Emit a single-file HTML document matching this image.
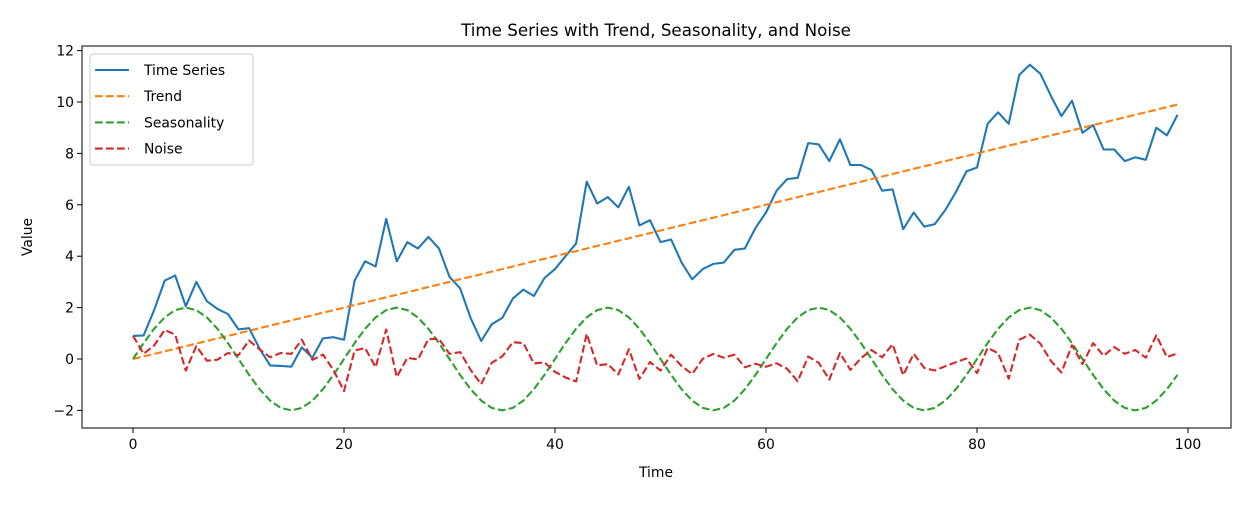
<!DOCTYPE html>
<html><head><meta charset="utf-8"><style>
html,body{margin:0;padding:0;background:#fff;}
svg text{font-family:"DejaVu Sans","Liberation Sans",sans-serif;fill:#000;}
</style></head><body>
<svg id="s" width="1248" height="500" xmlns="http://www.w3.org/2000/svg"></svg>
<script>
var ts=[0.9,0.92,1.9,3.05,3.25,2.05,3.0,2.25,1.95,1.75,1.15,1.2,0.4,-0.25,-0.27,-0.3,0.45,0.05,0.8,0.85,0.75,3.05,3.8,3.6,5.45,3.8,4.55,4.3,4.75,4.3,3.2,2.75,1.6,0.7,1.35,1.6,2.35,2.7,2.45,3.15,3.5,4.0,4.5,6.9,6.05,6.3,5.9,6.7,5.2,5.4,4.55,4.65,3.75,3.1,3.5,3.7,3.75,4.25,4.3,5.1,5.7,6.55,7.0,7.05,8.4,8.35,7.7,8.55,7.55,7.55,7.35,6.55,6.6,5.05,5.7,5.15,5.25,5.8,6.5,7.3,7.45,9.15,9.6,9.15,11.05,11.45,11.1,10.25,9.45,10.05,8.8,9.1,8.15,8.15,7.7,7.85,7.75,9.0,8.7,9.5];
var L=82,R=1231,T=46,B=428;
function X(x){return 133+x*10.55;}
function Y(y){return 359-y*25.7;}
var h='';
h+='<rect x="'+L+'" y="'+T+'" width="'+(R-L)+'" height="'+(B-T)+'" fill="#fff" stroke="#000" stroke-width="1"/>';
function line(f,col,dash){var p=[];for(var i=0;i<100;i++)p.push(X(i).toFixed(1)+','+Y(f(i)).toFixed(1));
return '<polyline points="'+p.join(' ')+'" fill="none" stroke="'+col+'" stroke-width="2.08" stroke-linejoin="round" '+(dash?'stroke-dasharray="7.7,3.3"':'')+'/>';}
var tr=function(i){return i/10;},se=function(i){return 2*Math.sin(2*Math.PI*i/20);};
h+=line(function(i){return ts[i];},'#1f77b4',false);
h+=line(tr,'#ff7f0e',true);
h+=line(se,'#2ca02c',true);
h+=line(function(i){return ts[i]-tr(i)-se(i);},'#d62728',true);
for(var v=0;v<=100;v+=20){h+='<line x1="'+X(v)+'" x2="'+X(v)+'" y1="'+B+'" y2="'+(B+5)+'" stroke="#000"/>';
h+='<text x="'+X(v)+'" y="'+(B+21)+'" font-size="13.9" text-anchor="middle">'+v+'</text>';}
for(var v=-2;v<=12;v+=2){var y=Y(v);h+='<line x1="'+(L-5)+'" x2="'+L+'" y1="'+y+'" y2="'+y+'" stroke="#000"/>';
h+='<text x="'+(L-8)+'" y="'+(y+5)+'" font-size="13.9" text-anchor="end">'+(v<0?'\u2212'+(-v):v)+'</text>';}
h+='<text x="656" y="477" font-size="13.9" text-anchor="middle">Time</text>';
h+='<text transform="translate(32,237) rotate(-90)" font-size="13.9" text-anchor="middle">Value</text>';
h+='<text x="656" y="36" font-size="16.7" text-anchor="middle">Time Series with Trend, Seasonality, and Noise</text>';
h+='<rect x="90" y="54" width="163" height="111" rx="3" fill="#fff" fill-opacity="0.8" stroke="#ccc"/>';
var lg=[['Time Series','#1f77b4',0],['Trend','#ff7f0e',1],['Seasonality','#2ca02c',1],['Noise','#d62728',1]];
for(var k=0;k<4;k++){var y=70+k*26.2;
h+='<line x1="95" x2="129" y1="'+y+'" y2="'+y+'" stroke="'+lg[k][1]+'" stroke-width="2.08" '+(lg[k][2]?'stroke-dasharray="7.7,3.3"':'')+'/>';
h+='<text x="144" y="'+(y+5)+'" font-size="13.9">'+lg[k][0]+'</text>';}
document.getElementById('s').innerHTML=h;
</script>
</body></html>
